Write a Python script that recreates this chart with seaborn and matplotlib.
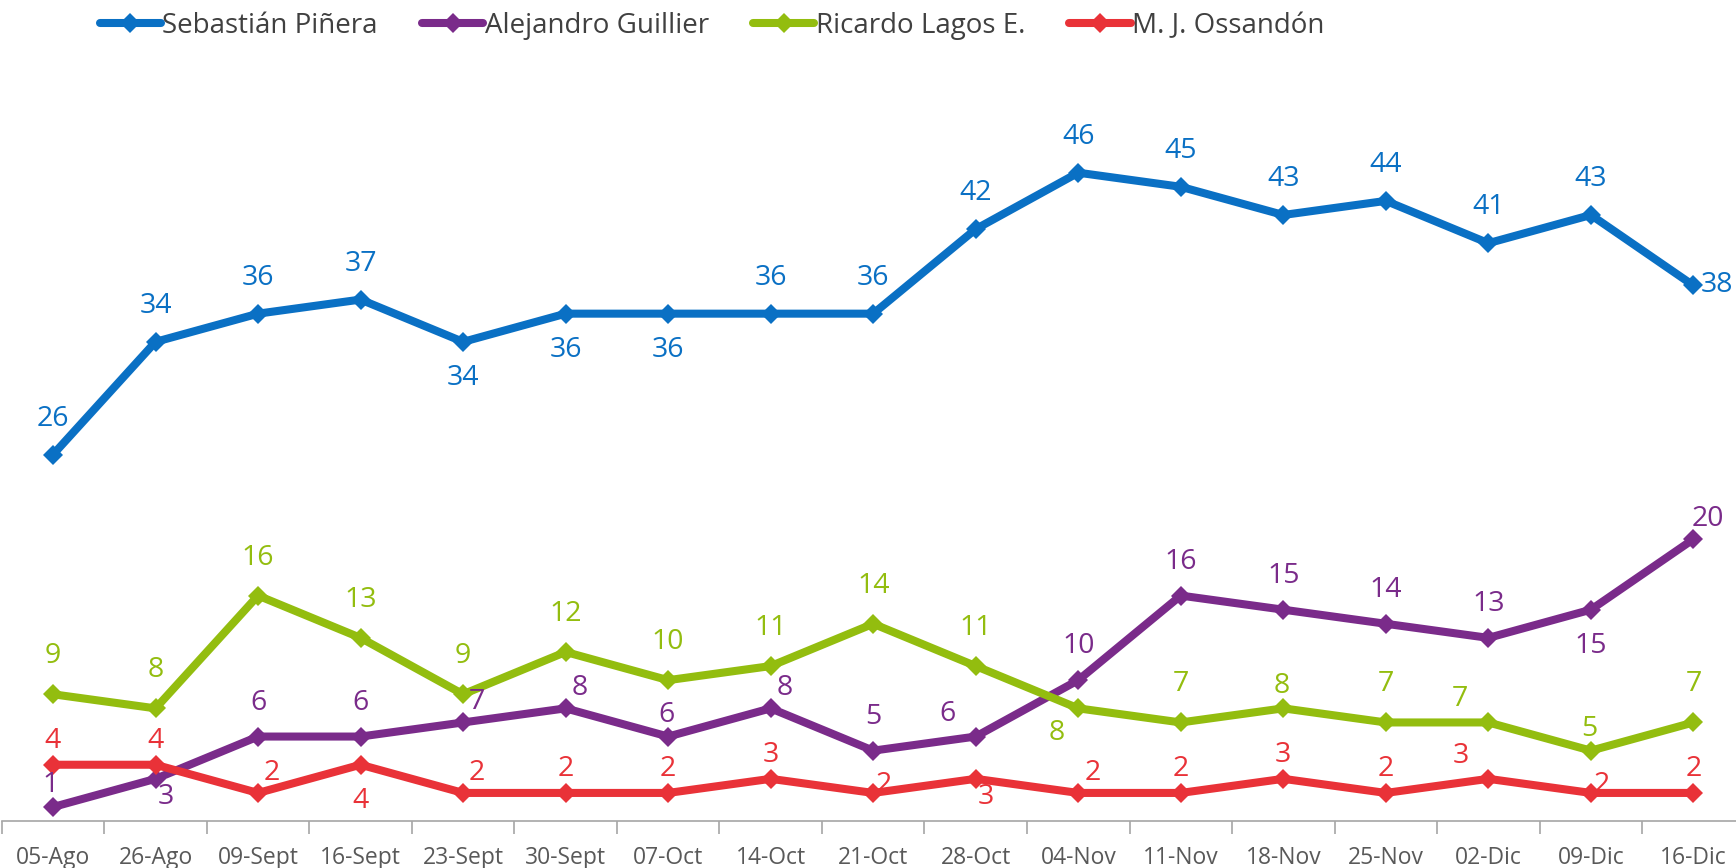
import pandas as pd
import matplotlib
matplotlib.use("Agg")
import matplotlib.pyplot as plt
import seaborn as sns
from matplotlib.lines import Line2D

# Fechas de las encuestas
dates = ["05-Ago", "26-Ago", "09-Sept", "16-Sept", "23-Sept", "30-Sept", "07-Oct",
         "14-Oct", "21-Oct", "28-Oct", "04-Nov", "11-Nov", "18-Nov", "25-Nov",
         "02-Dic", "09-Dic", "16-Dic"]

# Valores por candidato
pinera = [26, 34, 36, 37, 34, 36, 36, 36, 36, 42, 46, 45, 43, 44, 41, 43, 38]
guillier = [1, 3, 6, 6, 7, 8, 6, 8, 5, 6, 10, 16, 15, 14, 13, 15, 20]
lagos = [9, 8, 16, 13, 9, 12, 10, 11, 14, 11, 8, 7, 8, 7, 7, 5, 7]
ossandon = [4, 4, 2, 4, 2, 2, 2, 3, 2, 3, 2, 2, 3, 2, 3, 2, 2]

names = ["Sebastián Piñera", "Alejandro Guillier", "Ricardo Lagos E.", "M. J. Ossandón"]
colors = ["#0A70C4", "#7A2B8A", "#93BD0F", "#E93238"]

# Posicion de cada etiqueta (a=arriba, b=abajo, ar=arriba-derecha, ...)
pos_pinera = ["a", "a", "a", "a", "b", "b", "b", "a", "a", "a", "a", "a", "a", "a", "a", "a", "r"]
pos_guillier = ["as", "br", "a", "a", "ar", "ar", "as", "ar", "a", "al", "a", "a", "a", "a", "a", "b", "ar"]
pos_lagos = ["a", "a", "a", "a", "a", "a", "a", "a", "a", "a", "bl", "a", "as", "a", "al", "as", "a"]
pos_ossandon = ["a", "a", "ar", "b", "ar", "a", "a", "a", "rs", "br", "ar", "a", "a", "a", "al", "rs", "a"]
above = [36, 34, 38, 24]


def build_frame():
    rows = []
    for name, vals in zip(names, [pinera, guillier, lagos, ossandon]):
        for i, v in enumerate(vals):
            rows.append({"idx": i, "fecha": dates[i], "valor": v, "candidato": name})
    return pd.DataFrame(rows)


def offset(code, up):
    table = {
        "a": (0, up), "as": (-2, 22), "b": (0, -36), "ar": (14, 20),
        "al": (-28, 23), "br": (10, -18), "bl": (-22, -25), "r": (24, 0),
        "rs": (11, 8),
    }
    return table[code]


def main():
    sns.set_theme(style="white")
    plt.rcParams["font.family"] = ["Open Sans", "DejaVu Sans"]

    df = build_frame()
    fig = plt.figure(figsize=(17.36, 8.68), dpi=100)
    ax = fig.add_axes([0.001, 0.054, 1.004, 0.812])

    sns.lineplot(data=df, x="idx", y="valor", hue="candidato", hue_order=names,
                 palette=colors, marker="D", markersize=10, markeredgewidth=0,
                 linewidth=5.8, sort=False, legend=False, ax=ax)

    all_pos = [pos_pinera, pos_guillier, pos_lagos, pos_ossandon]
    for k, name in enumerate(names):
        sub = df[df["candidato"] == name]
        for (_, row), code in zip(sub.iterrows(), all_pos[k]):
            dx, dy = offset(code, above[k])
            ax.annotate(str(row["valor"]), (row["idx"], row["valor"]),
                        xytext=(dx, dy), textcoords="offset pixels",
                        ha="center", va="center", fontsize=20.5, color=colors[k])

    ax.set_xlim(-0.5, len(dates) - 0.5)
    ax.set_ylim(0, 50)
    ax.set_yticks([])
    ax.set_xticks(range(len(dates)))
    ax.set_xticklabels(dates, fontsize=16.5, color="#595959")
    ax.set_xticks([i - 0.5 for i in range(len(dates) + 1)], minor=True)
    ax.tick_params(axis="x", which="major", length=0, pad=18)
    ax.tick_params(axis="x", which="minor", length=9, width=1.2, color="#A6A6A6",
                   direction="out", bottom=True)
    ax.set_xlabel("")
    ax.set_ylabel("")
    for side in ["top", "right", "left"]:
        ax.spines[side].set_visible(False)
    ax.spines["bottom"].set_color("#A6A6A6")
    ax.spines["bottom"].set_linewidth(1.2)

    handles = [Line2D([0], [0], color=c, lw=5.8, marker="D", markersize=10,
                      markeredgewidth=0) for c in colors]
    fig.legend(handles, names, loc="upper left", bbox_to_anchor=(0.043, 1.015),
               ncol=4, frameon=False, fontsize=20, handlelength=2.2,
               handletextpad=0.05, columnspacing=1.6, labelcolor="#404040")

    fig.savefig("out.png", dpi=100)


if __name__ == "__main__":
    main()
